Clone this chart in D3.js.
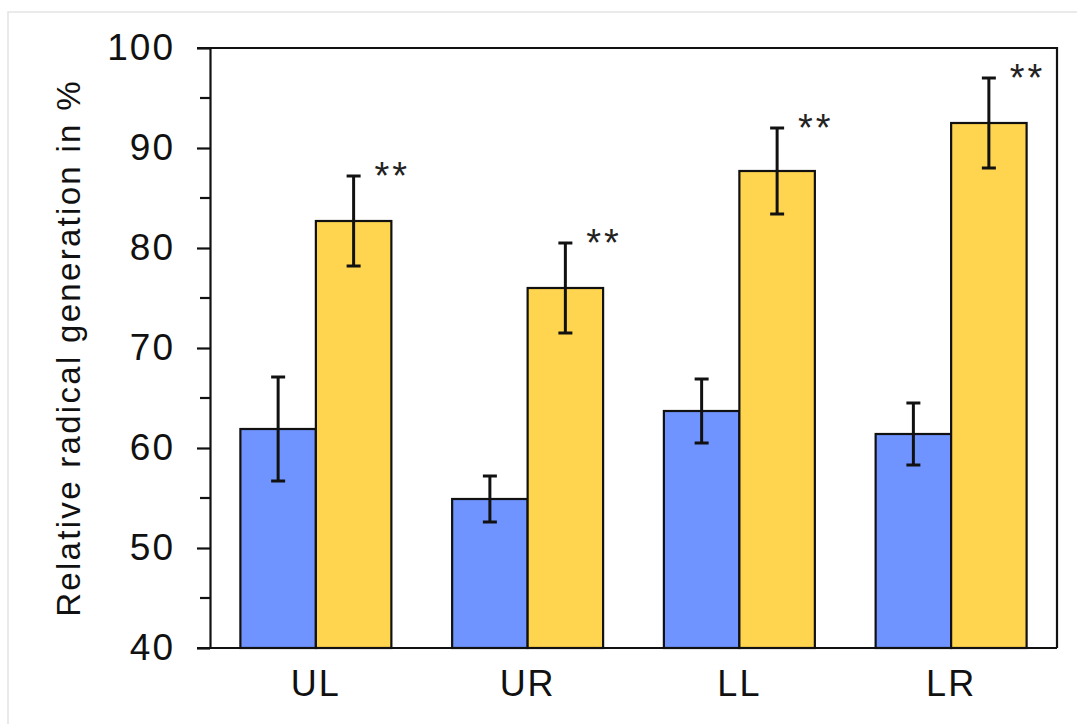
<!DOCTYPE html>
<html>
<head>
<meta charset="utf-8">
<script src="https://cdn.jsdelivr.net/npm/d3@7"></script>
<style>
  body { margin: 0; background: #fff; }
  svg { display: block; font-family: "Liberation Sans", Arial, sans-serif; }
</style>
</head>
<body>
<div class="container"></div>
<script>
const CATEGORIES = ["UL", "UR", "LL", "LR"];
const SERIES = ["blue", "yellow"];
const BLUE_VALUES = [61.9, 54.9, 63.7, 61.4];
const BLUE_ERRORS = [5.2, 2.3, 3.2, 3.1];
const YELLOW_VALUES = [82.7, 76.0, 87.7, 92.5];
const YELLOW_ERRORS = [4.5, 4.5, 4.3, 4.5];
const SIGNIFICANCE = ["**", "**", "**", "**"];
const Y_TICKS = [40, 50, 60, 70, 80, 90, 100];
const Y_LABEL = "Relative radical generation in %";

const WIDTH = 1077, HEIGHT = 724;
const MARGIN = { top: 48, right: 20, bottom: 76, left: 210 };
const COLORS = { blue: "#7094ff", yellow: "#ffd44f" };

// build rows for the library
const rows = CATEGORIES.map((c, i) => ({
  cat: c,
  bars: [
    { key: "blue", value: BLUE_VALUES[i], err: BLUE_ERRORS[i] },
    { key: "yellow", value: YELLOW_VALUES[i], err: YELLOW_ERRORS[i] }
  ],
  sig: SIGNIFICANCE[i]
}));

const x0 = d3.scaleBand()
  .domain(CATEGORIES)
  .range([MARGIN.left, WIDTH - MARGIN.right])
  .paddingInner(0.287)
  .paddingOuter(0.1435);
const x1 = d3.scaleBand()
  .domain(SERIES)
  .range([0, x0.bandwidth()]);
const y = d3.scaleLinear()
  .domain([40, 100])
  .range([HEIGHT - MARGIN.bottom, MARGIN.top]);

const svg = d3.select(".container")
  .append("svg")
  .attr("width", WIDTH)
  .attr("height", HEIGHT);

// faint outer frame
svg.append("rect")
  .attr("x", 8).attr("y", 12)
  .attr("width", WIDTH).attr("height", HEIGHT)
  .attr("fill", "none")
  .attr("stroke", "#e3e3e3")
  .attr("stroke-width", 1.5);

// bars
const groups = svg.append("g")
  .selectAll("g")
  .data(rows)
  .join("g")
  .attr("transform", (d) => `translate(${x0(d.cat)},0)`);

groups.selectAll("rect")
  .data((d) => d.bars)
  .join("rect")
  .attr("x", (d) => x1(d.key))
  .attr("y", (d) => y(d.value))
  .attr("width", x1.bandwidth())
  .attr("height", (d) => y(40) - y(d.value))
  .attr("fill", (d) => COLORS[d.key])
  .attr("stroke", "#111")
  .attr("stroke-width", 2.2);

// error bars
const err = groups.selectAll("g.err")
  .data((d) => d.bars)
  .join("g")
  .attr("class", "err")
  .attr("stroke", "#111")
  .attr("stroke-width", 3);
const cx = (d) => x1(d.key) + x1.bandwidth() / 2;
err.append("line")
  .attr("x1", cx).attr("x2", cx)
  .attr("y1", (d) => y(d.value + d.err))
  .attr("y2", (d) => y(d.value - d.err));
err.append("line")
  .attr("x1", (d) => cx(d) - 7).attr("x2", (d) => cx(d) + 7)
  .attr("y1", (d) => y(d.value + d.err))
  .attr("y2", (d) => y(d.value + d.err));
err.append("line")
  .attr("x1", (d) => cx(d) - 7).attr("x2", (d) => cx(d) + 7)
  .attr("y1", (d) => y(d.value - d.err))
  .attr("y2", (d) => y(d.value - d.err));

// significance stars
groups.append("text")
  .attr("x", x1("yellow") + x1.bandwidth() + 1)
  .attr("y", (d) => y(d.bars[1].value + d.bars[1].err) + 13)
  .attr("text-anchor", "middle")
  .attr("font-size", 38)
  .attr("letter-spacing", 3)
  .attr("fill", "#222")
  .text((d) => d.sig);

// frame: top and right lines
const x0r = WIDTH - MARGIN.right;
svg.append("path")
  .attr("d", `M${MARGIN.left - 13},${y(100)}H${x0r}V${y(40)}`)
  .attr("fill", "none")
  .attr("stroke", "#111")
  .attr("stroke-width", 2.2);

// y axis
const yAxis = svg.append("g")
  .attr("transform", `translate(${MARGIN.left},0)`)
  .call(d3.axisLeft(y).tickValues(Y_TICKS).tickSize(13).tickPadding(22).tickSizeOuter(0));
yAxis.selectAll(".tick text").attr("font-size", 37).attr("letter-spacing", 2).attr("fill", "#111");
yAxis.selectAll("line, path").attr("stroke", "#111").attr("stroke-width", 2.2);
// minor ticks
svg.append("g")
  .selectAll("line")
  .data(d3.range(45, 100, 10))
  .join("line")
  .attr("x1", MARGIN.left - 10).attr("x2", MARGIN.left)
  .attr("y1", (d) => y(d)).attr("y2", (d) => y(d))
  .attr("stroke", "#111").attr("stroke-width", 2.2);

// x axis
const xAxis = svg.append("g")
  .attr("transform", `translate(0,${y(40)})`)
  .call(d3.axisBottom(x0).tickSize(0).tickPadding(22).tickSizeOuter(0));
xAxis.select(".domain").remove();
xAxis.selectAll(".tick text").attr("font-size", 36).attr("letter-spacing", 2).attr("fill", "#111");
svg.append("line")
  .attr("x1", MARGIN.left - 13).attr("x2", x0r)
  .attr("y1", y(40)).attr("y2", y(40))
  .attr("stroke", "#111").attr("stroke-width", 2.2);

// y label
svg.append("text")
  .attr("transform", `translate(80,${(y(40) + y(100)) / 2}) rotate(-90)`)
  .attr("text-anchor", "middle")
  .attr("font-size", 33)
  .attr("letter-spacing", 2.3)
  .attr("fill", "#111")
  .text(Y_LABEL);
</script>
</body>
</html>
